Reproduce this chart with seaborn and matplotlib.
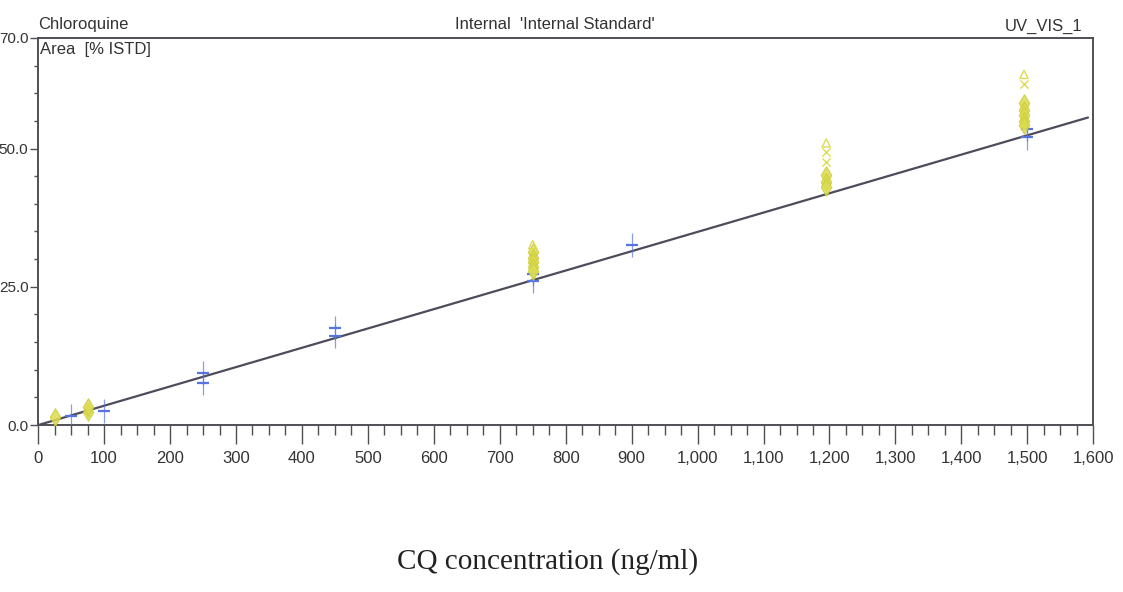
import matplotlib
matplotlib.use("Agg")
import matplotlib.pyplot as plt
import matplotlib.ticker as mticker
import numpy as np
import pandas as pd
import seaborn as sns

# Calibration standards (ng/ml) and measured area (% ISTD)
blue_conc = [50, 100, 250, 250, 450, 450, 750, 750, 900, 1500, 1500]
blue_area = [1.6, 2.6, 9.4, 7.6, 17.6, 16.1, 27.4, 26.1, 32.6, 53.6, 52.0]

yellow_conc = [25, 75, 75, 750, 750, 750, 750, 750, 750,
               1195, 1195, 1195, 1195, 1195, 1195,
               1495, 1495, 1495, 1495, 1495, 1495, 1495]
yellow_area = [1.4, 2.4, 3.2, 32.6, 31.2, 30.2, 29.4, 28.6, 27.8,
               51.0, 49.3, 47.6, 45.2, 44.0, 43.0,
               63.4, 61.6, 58.3, 57.0, 56.0, 55.0, 54.3]
yellow_kind = ["diamond", "diamond", "diamond", "triangle", "diamond", "diamond", "diamond", "diamond", "diamond",
               "triangle", "cross", "cross", "diamond", "diamond", "diamond",
               "triangle", "cross", "diamond", "diamond", "diamond", "diamond", "diamond"]

# Calibration line
fit_conc = [0, 1592]
fit_area = [0.0, 55.6]

x_ticks = [0, 100, 200, 300, 400, 500, 600, 700, 800, 900, 1000,
           1100, 1200, 1300, 1400, 1500, 1600]
y_ticks = [0.0, 25.0, 50.0, 70.0]

sns.set_style("ticks")
plt.rcParams["font.family"] = ["Liberation Sans", "DejaVu Sans"]

fig = plt.figure(figsize=(11.23, 5.92), dpi=100)
ax = fig.add_axes([0.034, 0.282, 0.9395, 0.654])

edge = "#4f4f55"
blue = "#5574e0"
yellow = "#dcdc50"
txt = "#333333"

# calibration line
sns.lineplot(x=fit_conc, y=fit_area, ax=ax, color="#4e4b5c", lw=1.6, zorder=3)

# blue standards: horizontal bar with vertical whisker
bdf = pd.DataFrame({"conc": blue_conc, "area": blue_area})
ax.errorbar(bdf["conc"], bdf["area"], yerr=2.2, fmt="none", ecolor=blue,
            elinewidth=0.9, alpha=0.7, zorder=4)
sns.scatterplot(data=bdf, x="conc", y="area", ax=ax, marker="_", s=70,
                color=blue, linewidth=1.6, zorder=5)

# yellow QC samples
ydf = pd.DataFrame({"conc": yellow_conc, "area": yellow_area, "kind": yellow_kind})
sns.scatterplot(data=ydf[ydf["kind"] == "diamond"], x="conc", y="area", ax=ax,
                marker="d", s=80, color=yellow, edgecolor="#cccc38",
                linewidth=0.8, alpha=0.85, zorder=6)
sns.scatterplot(data=ydf[ydf["kind"] == "triangle"], x="conc", y="area", ax=ax,
                marker="^", s=35, facecolor="none", edgecolor=yellow,
                linewidth=1.0, zorder=6)
sns.scatterplot(data=ydf[ydf["kind"] == "cross"], x="conc", y="area", ax=ax,
                marker="x", s=35, color=yellow, linewidth=1.0, zorder=6)

ax.set_xlim(0, 1600)
ax.set_ylim(0, 70)
ax.set_xticks(x_ticks)
ax.set_yticks(y_ticks)
ax.xaxis.set_minor_locator(mticker.MultipleLocator(25))
ax.yaxis.set_minor_locator(mticker.MultipleLocator(5))
ax.xaxis.set_major_formatter(mticker.FuncFormatter(lambda v, p: f"{int(v):,}"))
ax.yaxis.set_major_formatter(mticker.FormatStrFormatter("%.1f"))

for s in ax.spines.values():
    s.set_color(edge)
    s.set_linewidth(1.4)

ax.tick_params(axis="x", which="major", length=14, width=1.0, color=edge,
               labelsize=12, labelcolor=txt, pad=5)
ax.tick_params(axis="x", which="minor", length=7, width=1.0, color=edge)
ax.tick_params(axis="y", which="major", length=6, width=1.0, color=edge,
               labelsize=11, labelcolor=txt, pad=1)
ax.tick_params(axis="y", which="minor", length=3, width=1.0, color=edge)

ax.set_xlabel("")
ax.set_ylabel("")

# header texts
ax.text(0.0, 1.015, "Chloroquine", transform=ax.transAxes, ha="left", va="bottom",
        fontsize=12, color=txt)
ax.text(0.002, 0.99, "Area  [% ISTD]", transform=ax.transAxes, ha="left", va="top",
        fontsize=12, color=txt)
ax.text(0.49, 1.015, "Internal  'Internal Standard'", transform=ax.transAxes,
        ha="center", va="bottom", fontsize=12, color=txt)
ax.text(0.99, 1.01, "UV_VIS_1", transform=ax.transAxes, ha="right", va="bottom",
        fontsize=12, color=txt)

fig.text(0.488, 0.028, "CQ concentration (ng/ml)", ha="center", va="bottom",
         fontsize=21, family="Liberation Serif", color="#222222")

fig.savefig("out.png", dpi=100, facecolor="white")
